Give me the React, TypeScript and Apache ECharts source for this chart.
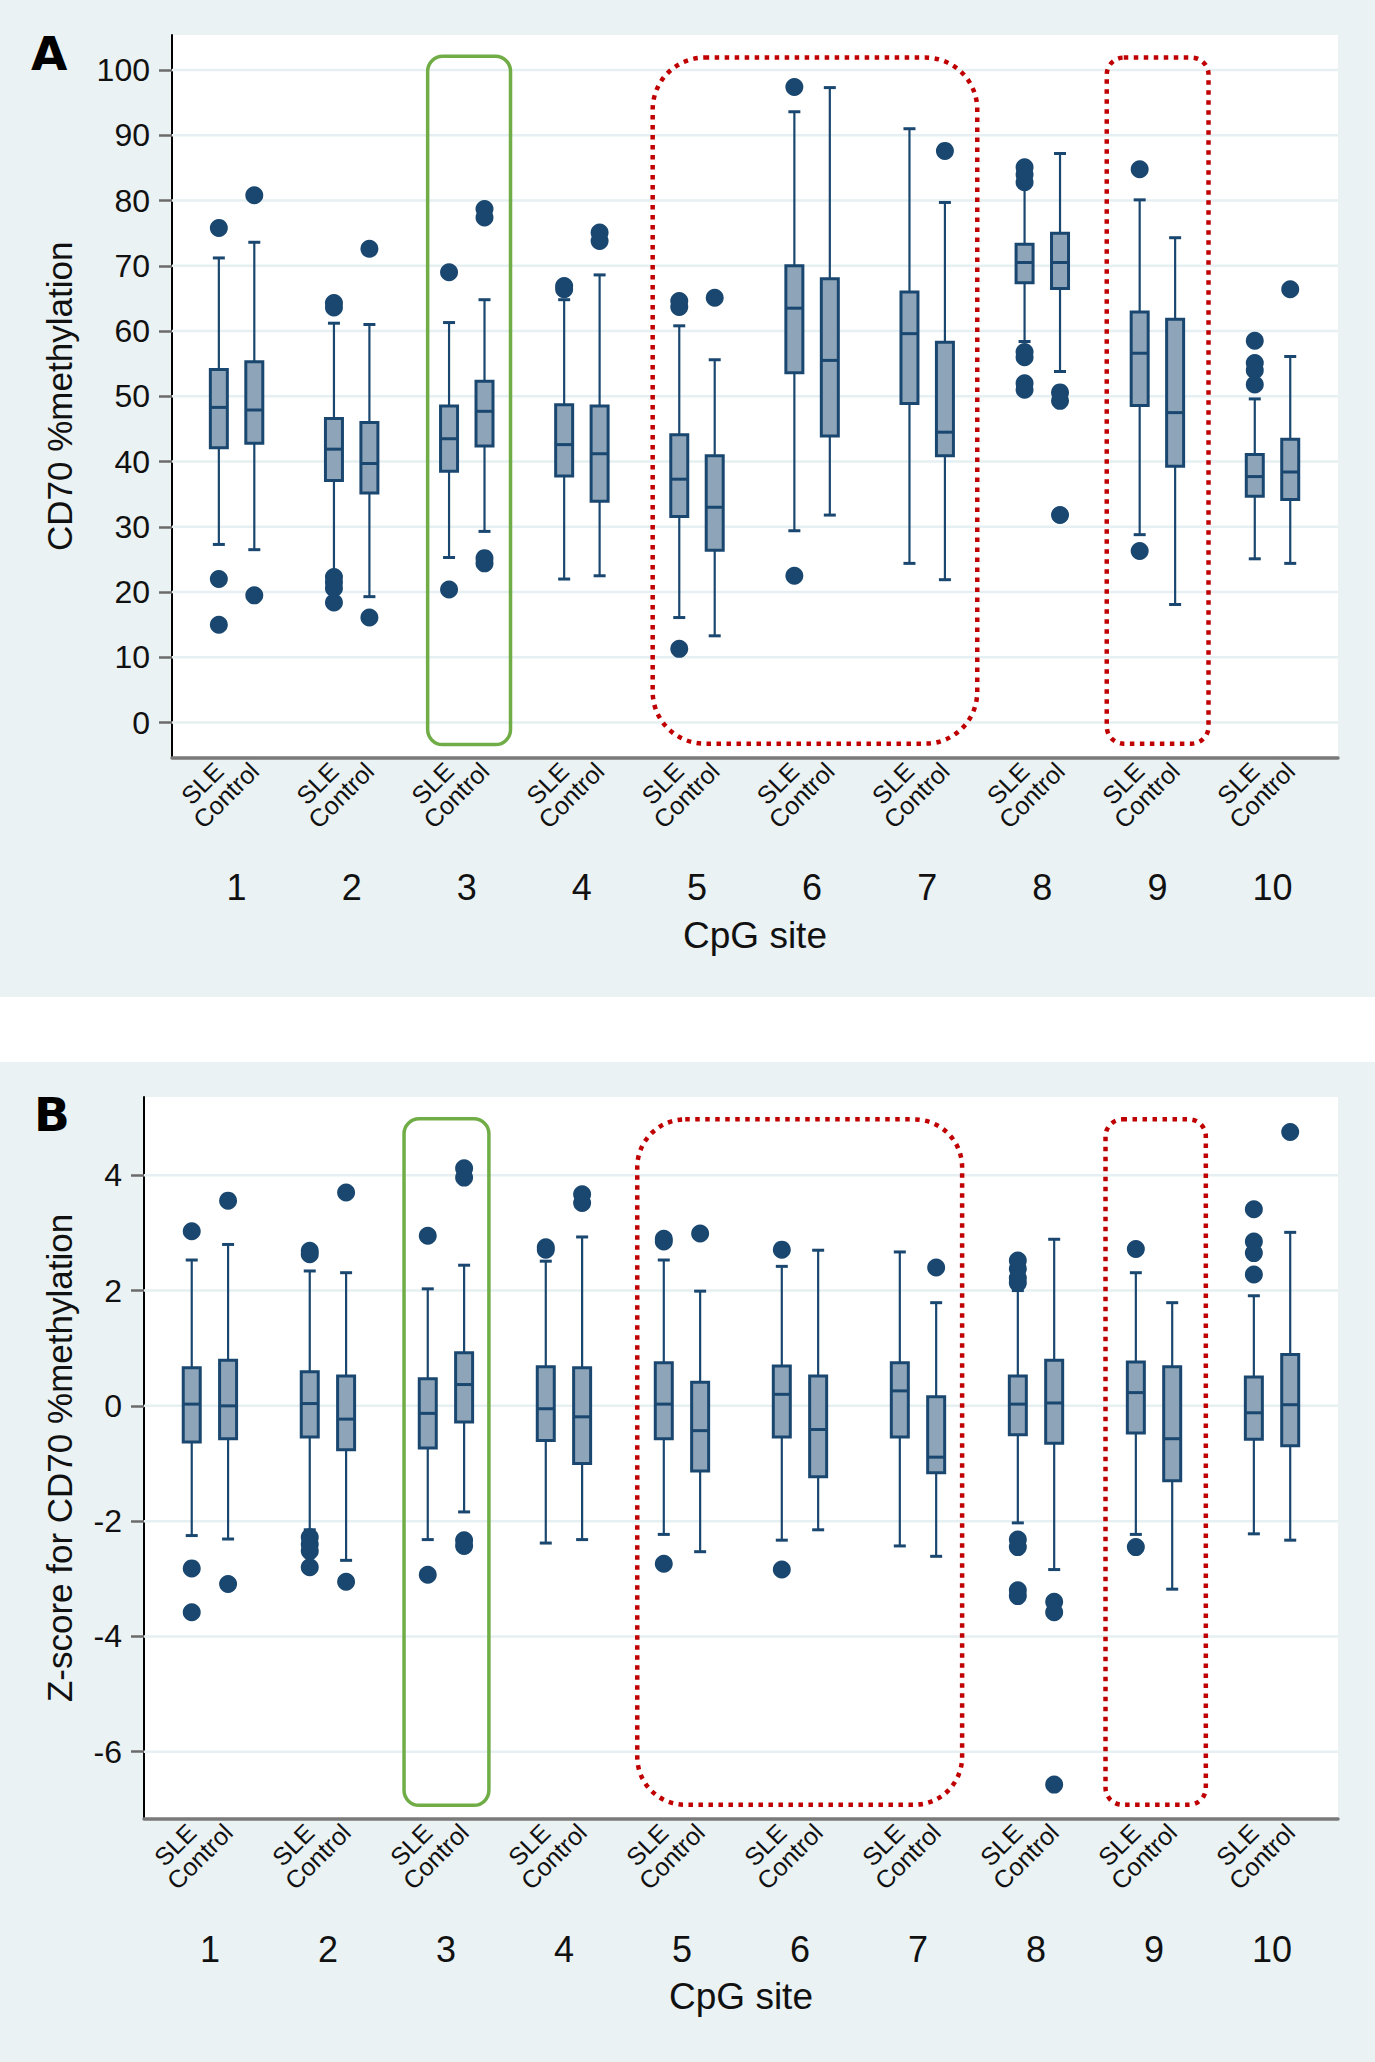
import React, { useEffect, useRef } from "react";
import * as echarts from "echarts";

// ---------- data ----------
const SITES = [1, 2, 3, 4, 5, 6, 7, 8, 9, 10];
const GROUP_OFFSET = 0.154; // SLE at site - offset, Control at site + offset

// Panel A: CD70 %methylation  [lower whisker, Q1, median, Q3, upper whisker]
const A_SLE = [
  [27.3, 42.1, 48.3, 54.1, 71.2],
  [22.8, 37.1, 41.9, 46.6, 61.2],
  [25.3, 38.5, 43.5, 48.5, 61.3],
  [22.0, 37.8, 42.6, 48.7, 64.8],
  [16.1, 31.6, 37.3, 44.1, 60.8],
  [29.4, 53.6, 63.5, 70.0, 93.6],
  [24.4, 48.9, 59.6, 66.0, 91.0],
  [58.4, 67.4, 70.5, 73.3, 82.0],
  [28.8, 48.6, 56.6, 62.9, 80.1],
  [25.1, 34.7, 37.7, 41.1, 49.6],
];
const A_CONTROL = [
  [26.5, 42.8, 47.9, 55.3, 73.6],
  [19.3, 35.2, 39.7, 46.0, 61.0],
  [29.3, 42.4, 47.7, 52.3, 64.8],
  [22.5, 33.9, 41.2, 48.5, 68.6],
  [13.3, 26.4, 33.0, 40.9, 55.6],
  [31.8, 43.9, 55.5, 68.0, 97.3],
  [21.9, 40.9, 44.5, 58.3, 79.7],
  [53.8, 66.5, 70.5, 75.0, 87.2],
  [18.1, 39.3, 47.5, 61.8, 74.3],
  [24.4, 34.2, 38.4, 43.4, 56.1],
];
const A_SLE_OUTLIERS = [
  [75.8, 22.0, 15.0],
  [64.3, 63.6, 22.3, 21.5, 20.6, 18.4],
  [69.0, 20.4],
  [66.9, 66.4],
  [64.6, 63.7, 11.3],
  [97.4, 22.5],
  [],
  [85.1, 84.0, 82.8, 56.8, 56.0, 52.0, 51.0],
  [84.8, 26.3],
  [58.5, 55.1, 54.0, 51.8],
];
const A_CONTROL_OUTLIERS = [
  [80.8, 19.5],
  [72.6, 16.1],
  [78.7, 77.4, 25.2, 24.4],
  [75.1, 73.8],
  [65.1],
  [],
  [87.6],
  [50.6, 49.3, 31.8],
  [],
  [66.4],
];

// Panel B: Z-score  [lower whisker, Q1, median, Q3, upper whisker]
const B_SLE = [
  [-2.25, -0.625, 0.03, 0.66, 2.53],
  [-2.15, -0.54, 0.04, 0.59, 2.34],
  [-2.32, -0.73, -0.13, 0.47, 2.03],
  [-2.38, -0.6, -0.05, 0.68, 2.51],
  [-2.23, -0.57, 0.03, 0.75, 2.53],
  [-2.33, -0.54, 0.2, 0.69, 2.42],
  [-2.43, -0.54, 0.26, 0.75, 2.67],
  [-2.03, -0.5, 0.03, 0.52, 2.0],
  [-2.23, -0.47, 0.23, 0.76, 2.31],
  [-2.22, -0.58, -0.12, 0.5, 1.91],
];
const B_CONTROL = [
  [-2.31, -0.57, 0.0, 0.79, 2.8],
  [-2.68, -0.76, -0.23, 0.52, 2.31],
  [-1.84, -0.28, 0.37, 0.92, 2.44],
  [-2.32, -1.0, -0.19, 0.66, 2.93],
  [-2.53, -1.13, -0.43, 0.41, 1.99],
  [-2.15, -1.23, -0.41, 0.52, 2.7],
  [-2.61, -1.16, -0.89, 0.16, 1.79],
  [-2.84, -0.65, 0.05, 0.79, 2.89],
  [-3.18, -1.3, -0.57, 0.68, 1.79],
  [-2.33, -0.69, 0.02, 0.89, 3.01],
];
const B_SLE_OUTLIERS = [
  [3.03, -2.82, -3.58],
  [2.69, 2.63, -2.28, -2.4, -2.52, -2.8],
  [2.95, -2.93],
  [2.75, 2.71],
  [2.9, 2.85, -2.74],
  [2.71, -2.84],
  [],
  [2.52, 2.38, 2.22, 2.13, -2.32, -2.45, -3.2, -3.3],
  [2.72, -2.45],
  [3.41, 2.85, 2.65, 2.28],
];
const B_CONTROL_OUTLIERS = [
  [3.56, -3.09],
  [3.7, -3.05],
  [4.12, 3.96, -2.33, -2.43],
  [3.67, 3.52],
  [2.99],
  [],
  [2.4],
  [-3.4, -3.58, -6.57],
  [],
  [4.75],
];

const A_Y_TICKS = [0, 10, 20, 30, 40, 50, 60, 70, 80, 90, 100];
const B_Y_TICKS = [-6, -4, -2, 0, 2, 4];

// highlight frames in data coordinates [x1, x2, yTop, yBottom]
const A_GREEN_FRAMES = [[2.66, 3.38, 102.1, -3.37]];
const A_RED_FRAMES = [
  [4.615, 7.435, 101.9, -3.22],
  [8.56, 9.444, 101.9, -3.22],
];
const B_GREEN_FRAMES = [[2.645, 3.364, 4.98, -6.93]];
const B_RED_FRAMES = [
  [4.621, 7.374, 4.97, -6.92],
  [8.589, 9.439, 4.97, -6.92],
];

// ---------- styles ----------
const NAVY = "#1a476f";
const BOX_FILL = "#8ea4b8";
const GRID_COLOR = "#e6eff1";
const BG = "#eaf2f3";
const FONT = "Liberation Sans";

function boxData(stats: number[][], offset: number) {
  return SITES.map((s, i) => [s + offset, ...stats[i]]);
}
function outlierData(list: number[][], offset: number) {
  const out: number[][] = [];
  SITES.forEach((s, i) => list[i].forEach((v) => out.push([s + offset, v])));
  return out;
}

function renderBox(params: any, api: any) {
  const x = api.value(0);
  const lo = api.coord([x, api.value(1)]);
  const q1 = api.coord([x, api.value(2)]);
  const md = api.coord([x, api.value(3)]);
  const q3 = api.coord([x, api.value(4)]);
  const hi = api.coord([x, api.value(5)]);
  const cx = lo[0];
  const hw = 8.5;
  const cw = 6;
  const whisker = { stroke: NAVY, lineWidth: 2.2 };
  const cap = { stroke: NAVY, lineWidth: 3 };
  return {
    type: "group",
    children: [
      { type: "line", shape: { x1: cx, y1: hi[1], x2: cx, y2: q3[1] }, style: whisker },
      { type: "line", shape: { x1: cx, y1: q1[1], x2: cx, y2: lo[1] }, style: whisker },
      { type: "line", shape: { x1: cx - cw, y1: hi[1], x2: cx + cw, y2: hi[1] }, style: cap },
      { type: "line", shape: { x1: cx - cw, y1: lo[1], x2: cx + cw, y2: lo[1] }, style: cap },
      {
        type: "rect",
        shape: { x: cx - hw, y: q3[1], width: 2 * hw, height: q1[1] - q3[1] },
        style: { fill: BOX_FILL, stroke: NAVY, lineWidth: 3 },
      },
      { type: "line", shape: { x1: cx - hw, y1: md[1], x2: cx + hw, y2: md[1] }, style: cap },
    ],
  };
}

function renderGridLine(params: any, api: any) {
  const cs = params.coordSys;
  const p = api.coord([api.value(0), api.value(1)]);
  return {
    type: "line",
    shape: { x1: cs.x, y1: p[1], x2: cs.x + cs.width, y2: p[1] },
    style: { stroke: GRID_COLOR, lineWidth: 2.5 },
  };
}

function frameRenderer(stroke: string, lineWidth: number, dash: number[] | null, radii: number[]) {
  return (params: any, api: any) => {
    const p1 = api.coord([api.value(0), api.value(2)]);
    const p2 = api.coord([api.value(1), api.value(3)]);
    return {
      type: "rect",
      shape: { x: p1[0], y: p1[1], width: p2[0] - p1[0], height: p2[1] - p1[1], r: radii[params.dataIndex] },
      style: { fill: "none", stroke, lineWidth, lineDash: dash || undefined },
    };
  };
}

function panelAxes(gridIndex: number, xMin: number, xMax: number, yMin: number, yMax: number, yTicks: number[], yName: string, yNameGap: number) {
  const groupTicks = SITES.flatMap((s) => [s - GROUP_OFFSET, s + GROUP_OFFSET]);
  const xAxes = [
    {
      gridIndex,
      type: "value",
      position: "bottom",
      offset: 0,
      min: xMin,
      max: xMax,
      axisLine: { show: true, onZero: false, lineStyle: { color: "#7a7a7a", width: 3.5 } },
      axisTick: { show: false },
      splitLine: { show: false },
      axisLabel: {
        customValues: groupTicks,
        rotate: 45,
        margin: 9,
        fontSize: 25,
        color: "#111",
        fontFamily: FONT,
        formatter: (v: number) => (v < Math.round(v) ? "SLE" : "Control"),
      },
      name: "CpG site",
      nameLocation: "middle",
      nameGap: 159,
      nameTextStyle: { fontSize: 37, color: "#111", fontFamily: FONT },
    },
    {
      gridIndex,
      type: "value",
      position: "bottom",
      offset: 0,
      min: xMin,
      max: xMax,
      axisLine: { show: false, onZero: false },
      axisTick: { show: false },
      splitLine: { show: false },
      axisLabel: {
        customValues: SITES,
        margin: 112,
        fontSize: 36,
        color: "#111",
        fontFamily: FONT,
      },
    },
  ];
  const yAxis = {
    gridIndex,
    type: "value",
    min: yMin,
    max: yMax,
    axisLine: { show: true, onZero: false, lineStyle: { color: "#000", width: 2 } },
    axisTick: { show: true, customValues: yTicks, length: 13, lineStyle: { color: "#6b6b6b", width: 2.5 } },
    axisLabel: { customValues: yTicks, fontSize: 32, margin: 22, color: "#111", fontFamily: FONT },
    splitLine: { show: false },
    name: yName,
    nameLocation: "middle",
    nameGap: yNameGap,
    nameTextStyle: { fontSize: 35, color: "#111", fontFamily: FONT },
  };
  return { xAxes, yAxis };
}

function panelSeries(
  xAxisIndex: number,
  yAxisIndex: number,
  yTicks: number[],
  sle: number[][],
  control: number[][],
  sleOut: number[][],
  controlOut: number[][],
  green: number[][],
  red: number[][],
  redRadii: number[]
) {
  const common = { xAxisIndex, yAxisIndex };
  return [
    {
      ...common,
      type: "custom",
      z: 1,
      silent: true,
      renderItem: renderGridLine,
      data: yTicks.map((t) => [SITES[0], t]),
    },
    { ...common, type: "custom", name: "SLE", z: 3, renderItem: renderBox, data: boxData(sle, -GROUP_OFFSET) },
    { ...common, type: "custom", name: "Control", z: 3, renderItem: renderBox, data: boxData(control, GROUP_OFFSET) },
    {
      ...common,
      type: "scatter",
      z: 4,
      symbolSize: 18,
      itemStyle: { color: NAVY, opacity: 1 },
      data: [...outlierData(sleOut, -GROUP_OFFSET), ...outlierData(controlOut, GROUP_OFFSET)],
    },
    {
      ...common,
      type: "custom",
      z: 5,
      silent: true,
      renderItem: frameRenderer("#70ad47", 3.5, null, green.map(() => 15)),
      data: green,
    },
    {
      ...common,
      type: "custom",
      z: 5,
      silent: true,
      renderItem: frameRenderer("#c00000", 4.5, [4.5, 5.5], redRadii),
      data: red,
    },
  ];
}

export default function App() {
  const ref = useRef<HTMLDivElement>(null);
  useEffect(() => {
    document.body.style.margin = "0";
    if (!ref.current) return;
    const chart = echarts.init(ref.current, null, { renderer: "svg" });
    const a = panelAxes(0, 0.439, 10.569, -5.36, 105.36, A_Y_TICKS, "CD70 %methylation", 95);
    const b = panelAxes(1, 0.4415, 10.559, -7.167, 5.358, B_Y_TICKS, "Z-score for CD70 %methylation", 67);
    chart.setOption({
      animation: false,
      backgroundColor: BG,
      textStyle: { fontFamily: FONT },
      grid: [
        { left: 172, top: 35, width: 1166, height: 722.6, show: true, backgroundColor: "#fff", borderWidth: 0 },
        { left: 144, top: 1097, width: 1194, height: 722, show: true, backgroundColor: "#fff", borderWidth: 0 },
      ],
      xAxis: [...a.xAxes, ...b.xAxes],
      yAxis: [a.yAxis, b.yAxis],
      graphic: [
        { type: "rect", left: 0, top: 997, shape: { width: 1375, height: 65 }, style: { fill: "#fff" } },
        { type: "text", left: 31, top: 30, style: { text: "A", font: 'bold 47px "DejaVu Sans"', fill: "#000" } },
        { type: "text", left: 34, top: 1091, style: { text: "B", font: 'bold 47px "DejaVu Sans"', fill: "#000" } },
      ],
      series: [
        ...panelSeries(0, 0, A_Y_TICKS, A_SLE, A_CONTROL, A_SLE_OUTLIERS, A_CONTROL_OUTLIERS, A_GREEN_FRAMES, A_RED_FRAMES, [52, 17]),
        ...panelSeries(2, 1, B_Y_TICKS, B_SLE, B_CONTROL, B_SLE_OUTLIERS, B_CONTROL_OUTLIERS, B_GREEN_FRAMES, B_RED_FRAMES, [48, 17]),
      ],
    });
    return () => chart.dispose();
  }, []);
  return <div ref={ref} style={{ width: 1375, height: 2062 }} />;
}
